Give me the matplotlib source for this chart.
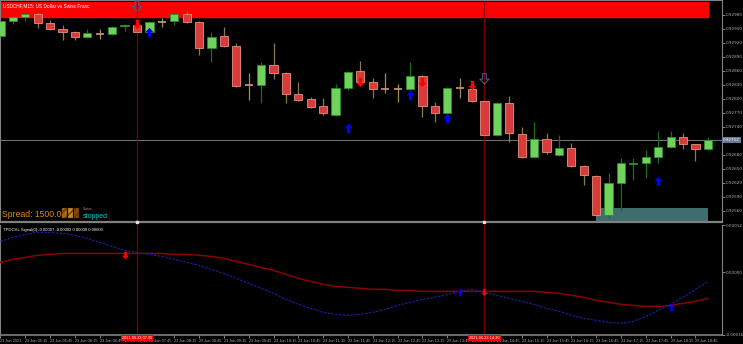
import matplotlib.pyplot as plt
import numpy as np
import pandas as pd
from matplotlib.path import Path
from matplotlib.transforms import blended_transform_factory

# USDCHF M15 candles, 23 Jun 2021 from 04:45
opens = [0.92935, 0.92967, 0.92976, 0.92982, 0.92963, 0.92950, 0.92943, 0.92933, 0.92939, 0.92939,
         0.92956, 0.92958, 0.92943, 0.92965, 0.92967, 0.92982, 0.92965, 0.92909, 0.92935, 0.92913,
         0.92830, 0.92830, 0.92873, 0.92856, 0.92811, 0.92800, 0.92785, 0.92766, 0.92823, 0.92860,
         0.92836, 0.92821, 0.92821, 0.92821, 0.92849, 0.92785, 0.92770, 0.92823, 0.92821, 0.92796,
         0.92723, 0.92791, 0.92725, 0.92676, 0.92714, 0.92680, 0.92695, 0.92656, 0.92635, 0.92551,
         0.92620, 0.92661, 0.92663, 0.92676, 0.92697, 0.92718, 0.92703, 0.92693]
highs = [0.92973, 0.92978, 0.92988, 0.92984, 0.92969, 0.92958, 0.92946, 0.92950, 0.92950, 0.92956,
         0.92961, 0.92967, 0.92967, 0.92973, 0.92984, 0.92988, 0.92967, 0.92943, 0.92954, 0.92920,
         0.92856, 0.92879, 0.92920, 0.92858, 0.92836, 0.92804, 0.92802, 0.92832, 0.92860, 0.92881,
         0.92845, 0.92856, 0.92832, 0.92879, 0.92851, 0.92793, 0.92826, 0.92845, 0.92823, 0.92798,
         0.92793, 0.92806, 0.92740, 0.92751, 0.92727, 0.92723, 0.92706, 0.92658, 0.92637, 0.92641,
         0.92673, 0.92673, 0.92691, 0.92731, 0.92731, 0.92727, 0.92703, 0.92718]
lows = [0.92931, 0.92961, 0.92967, 0.92952, 0.92948, 0.92926, 0.92926, 0.92931, 0.92928, 0.92937,
        0.92946, 0.92941, 0.92941, 0.92954, 0.92958, 0.92963, 0.92894, 0.92879, 0.92911, 0.92826,
        0.92798, 0.92791, 0.92843, 0.92791, 0.92796, 0.92781, 0.92766, 0.92763, 0.92819, 0.92834,
        0.92802, 0.92813, 0.92793, 0.92819, 0.92761, 0.92751, 0.92768, 0.92802, 0.92793, 0.92721,
        0.92721, 0.92708, 0.92673, 0.92673, 0.92682, 0.92678, 0.92654, 0.92616, 0.92549, 0.92545,
        0.92558, 0.92626, 0.92631, 0.92663, 0.92695, 0.92693, 0.92667, 0.92691]
closes = [0.92967, 0.92976, 0.92982, 0.92963, 0.92950, 0.92943, 0.92933, 0.92941, 0.92939, 0.92954,
          0.92958, 0.92943, 0.92965, 0.92965, 0.92982, 0.92965, 0.92909, 0.92933, 0.92913, 0.92828,
          0.92830, 0.92873, 0.92856, 0.92811, 0.92798, 0.92783, 0.92770, 0.92823, 0.92858, 0.92836,
          0.92821, 0.92821, 0.92821, 0.92849, 0.92785, 0.92770, 0.92823, 0.92823, 0.92796, 0.92723,
          0.92791, 0.92727, 0.92676, 0.92714, 0.92686, 0.92695, 0.92656, 0.92637, 0.92551, 0.92620,
          0.92663, 0.92663, 0.92676, 0.92697, 0.92718, 0.92703, 0.92693, 0.92712]

# TPDCHL signal lines (units of 1e-5)
sig_red = [2.55, 3.32, 3.83, 4.34, 4.60, 4.85, 4.85, 4.85, 4.85, 4.85,
           4.85, 4.85, 4.85, 4.85, 4.60, 4.60, 4.34, 4.08, 3.57, 2.81,
           2.04, 1.28, 0.51, -0.51, -1.53, -2.30, -3.06, -3.57, -3.83, -4.08,
           -4.34, -4.34, -4.60, -4.60, -4.85, -4.85, -4.85, -4.85, -4.85, -4.85,
           -4.85, -4.85, -4.85, -4.85, -5.11, -5.36, -5.87, -6.38, -7.15, -7.66,
           -8.17, -8.42, -8.68, -8.68, -8.42, -7.91, -7.40, -6.64]
sig_blue = [7.91, 8.94, 9.70, 10.21, 10.21, 9.96, 9.45, 8.68, 7.66, 6.64,
            5.62, 5.11, 4.60, 4.08, 3.32, 2.55, 1.79, 0.77, -0.26, -1.53,
            -2.81, -4.08, -5.36, -6.89, -8.17, -9.19, -10.21, -10.72, -10.98, -10.72,
            -10.21, -9.45, -8.42, -7.66, -6.89, -6.38, -5.62, -4.85, -4.34, -5.11,
            -5.87, -6.64, -7.40, -8.17, -9.19, -9.96, -10.98, -11.74, -12.25, -12.77,
            -13.02, -12.51, -11.23, -9.70, -8.17, -6.38, -4.34, -2.30]

# signal arrows on the price chart
buy_bars = [12, 28, 33, 36, 53]
buy_px = [0.92943, 0.92738, 0.92809, 0.92759, 0.92624]
sell_bars = [11, 29, 34, 38]
sell_px = [0.92961, 0.92836, 0.92836, 0.92830]
hollow_bars = [11, 39]
hollow_px = [0.92999, 0.92843]
# crossing arrows in the indicator
ind_up_bars = [37, 54]
ind_up_val = [-5.11, -8.93]
ind_dn_bars = [10, 39]
ind_dn_val = [4.34, -5.11]

cross_bars = [11, 39]
bid = 0.92712
start = pd.Timestamp('2021-06-23 04:45')

n = len(opens)
x = np.arange(n)
o = np.array(opens); c = np.array(closes)
h = np.array(highs); l = np.array(lows)
times = [start + pd.Timedelta(minutes=15 * i) for i in range(n)]

narrow = ['Liberation Sans Narrow', 'Liberation Sans', 'DejaVu Sans']
grid_col = '#808080'

fig = plt.figure(figsize=(7.43, 3.44), dpi=100, facecolor='black')
W, H = 743, 344
ax1 = fig.add_axes([0, 1 - 222 / H, 722 / W, 222 / H], facecolor='black')
ax2 = fig.add_axes([0, 1 - 335 / H, 722 / W, 110 / H], facecolor='black')

up_arrow = Path([(0, 1), (-0.9, 0.05), (-0.35, 0.05), (-0.35, -1), (0.35, -1), (0.35, 0.05), (0.9, 0.05), (0, 1)],
                [Path.MOVETO] + [Path.LINETO] * 6 + [Path.CLOSEPOLY])
dn_arrow = Path(up_arrow.vertices * [1, -1], up_arrow.codes)

# ---- main chart
ax1.axhspan(0.92976, 0.93008, xmin=0, xmax=708 / 722, color='#ff0000', zorder=1)
ax1.fill_between([48, 57], 0.92536, 0.92566, color='#3f6c6c', zorder=1, lw=0)
ax1.axhline(bid, color='#6e6e6e', lw=0.8, zorder=1)

bull = c > o
bear = c < o
doji = c == o
ax1.vlines(x[bull], l[bull], h[bull], color='#1f6a1f', lw=0.9, zorder=2)
ax1.vlines(x[bear], l[bear], h[bear], color='#8a7850', lw=0.9, zorder=2)
ax1.vlines(x[doji], l[doji], h[doji], color='#a08a60', lw=0.9, zorder=2)
ax1.bar(x[bull], c[bull] - o[bull], bottom=o[bull], width=0.66, color='#6fd25c',
        edgecolor='#2f8a2f', lw=0.6, zorder=3)
ax1.bar(x[bear], o[bear] - c[bear], bottom=c[bear], width=0.66, color='#d63c3c',
        edgecolor='#e8907a', lw=0.6, zorder=3)
ax1.hlines(c[doji], x[doji] - 0.33, x[doji] + 0.33, color='#c89c72', lw=1.2, zorder=3)

ax1.scatter(buy_bars, buy_px, marker=up_arrow, s=45, color='#0000ff', zorder=4, lw=0)
ax1.scatter(sell_bars, sell_px, marker=dn_arrow, s=45, color='#ff0000', zorder=4, lw=0)
ax1.scatter(hollow_bars, hollow_px, marker=dn_arrow, s=55, facecolor='none',
            edgecolor='#4a5a8a', lw=0.8, zorder=4)

for b in cross_bars:
    ax1.axvline(b, color='#7a0000', lw=0.9, zorder=2)
    ax2.axvline(b, color='#7a0000', lw=0.9, zorder=2)

ax1.set_xlim(-0.04, 58.14)
ax1.set_ylim(0.92536, 0.93012)
ax1.set_xticks([])
price_ticks = np.round(np.arange(0.92560, 0.92990, 0.0003), 5)
price_ticks = price_ticks[np.abs(price_ticks - bid) > 0.0001]
ax1.yaxis.tick_right()
ax1.set_yticks(price_ticks)
ax1.set_yticklabels(['%.5f' % p for p in price_ticks])
ax1.tick_params(axis='y', labelsize=3, colors='#b0b0b0', length=2, pad=1, width=0.5)
for s in ['top', 'left', 'right', 'bottom']:
    ax1.spines[s].set_color(grid_col)
ax1.spines['bottom'].set_linewidth(1.6)
ax1.spines['right'].set_linewidth(0.8)
ax1.spines['top'].set_linewidth(1.5)

ax1.text(1.0015, bid, '%.5f' % bid, transform=blended_transform_factory(ax1.transAxes, ax1.transData),
         fontsize=3, color='white', va='center', ha='left', zorder=6,
         bbox=dict(boxstyle='square,pad=0.25', fc='#6a7a96', ec='none'), clip_on=False)

ax1.text(0.004, 0.985, 'USDCHF,M15: US Dollar vs Swiss Franc', transform=ax1.transAxes,
         fontsize=3.4, color='white', va='top', ha='left', family=narrow, zorder=5)
ax1.text(0.003, 0.015, 'Spread: 1500.00', transform=ax1.transAxes, fontsize=6.2,
         color='#e08a10', va='bottom', ha='left', family=narrow, zorder=5)
for k, col in enumerate(['#b07018', '#d09a30', '#905010']):
    ax1.add_patch(plt.Rectangle((0.086 + k * 0.0085, 0.02), 0.007, 0.045, transform=ax1.transAxes,
                                color=col, hatch='////', ec='#603008', lw=0.2, zorder=5, alpha=0.9))
ax1.text(0.115, 0.05, 'Status', transform=ax1.transAxes, fontsize=2.4,
         color='#909090', va='bottom', ha='left', family=narrow, zorder=5)
ax1.text(0.115, 0.008, 'stopped', transform=ax1.transAxes, fontsize=5,
         color='#00c8c8', va='bottom', ha='left', family=narrow, zorder=5)

# ---- indicator
ax2.plot(x, np.array(sig_red) * 1e-5, color='#8b0000', lw=1.1, zorder=3)
ax2.plot(x, np.array(sig_blue) * 1e-5, color='#1c1c96', lw=0.9, ls=(0, (2, 1)), zorder=3)
ax2.scatter(ind_up_bars, np.array(ind_up_val) * 1e-5, marker=up_arrow, s=30, color='#0000ff', lw=0, zorder=4)
ax2.scatter(ind_dn_bars, np.array(ind_dn_val) * 1e-5, marker=dn_arrow, s=30, color='#ff0000', lw=0, zorder=4)
ax2.text(0.004, 0.975, 'TPDCHL Signal(0) -0.00007 -0.00002 0.00000 0.00000', transform=ax2.transAxes,
         fontsize=3, color='white', va='top', ha='left', family=narrow)

ax2.set_xlim(-0.04, 58.14)
ax2.set_ylim(-0.00016, 0.000121)
ax2.yaxis.tick_right()
ax2.set_yticks([0.00012, 0.0, -0.00016])
ax2.set_yticklabels(['0.00012', '0.00000', '-0.00016'])
ax2.tick_params(axis='y', labelsize=3, colors='#b0b0b0', length=2, pad=1, width=0.5)

tick_bars = x[::2]
tick_labels = ['23 Jun 2021' if i == 0 else times[i].strftime('%d %b %H:%M') for i in tick_bars]
ax2.set_xticks(tick_bars)
ax2.set_xticklabels(tick_labels)
ax2.tick_params(axis='x', labelsize=2.8, colors='#b0b0b0', length=2, pad=0.8, width=0.5)
for lbl in ax2.get_xticklabels():
    lbl.set_ha('left')
    lbl.set_family(narrow)
for s in ['top', 'left', 'right', 'bottom']:
    ax2.spines[s].set_color(grid_col)
ax2.spines['top'].set_visible(False)
ax2.spines['bottom'].set_linewidth(1.2)

tr = blended_transform_factory(ax2.transData, ax2.transAxes)
for b in cross_bars:
    ax2.text(b, -0.012, times[b].strftime('%Y.%m.%d %H:%M'), transform=tr, fontsize=2.8,
             color='white', ha='center', va='top', family=narrow, zorder=6, clip_on=False,
             bbox=dict(boxstyle='square,pad=0.3', fc='#ff0000', ec='none'))
    ax1.plot([b], [0.92536], marker='s', ms=2, color='#e0e0e0', clip_on=False, zorder=6)

fig.savefig('out.png', dpi=100, facecolor='black')
